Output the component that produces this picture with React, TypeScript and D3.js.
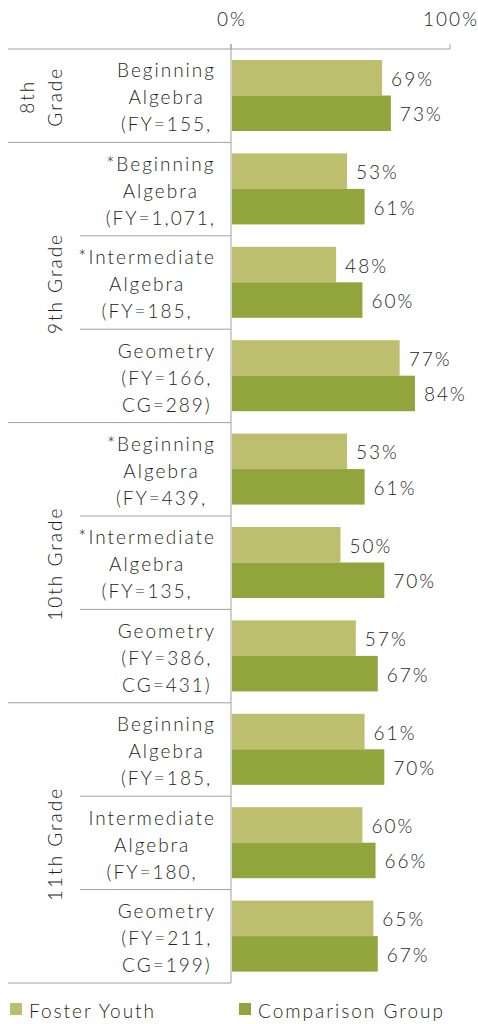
import { scaleBand, scaleLinear } from "d3";

const width = 478;
const height = 1024;

// chart values
const grades = [["8th", "Grade"], ["9th Grade"], ["10th Grade"], ["11th Grade"]];
const rowGrade = [0, 1, 1, 1, 2, 2, 2, 3, 3, 3];
const courses = [
  ["Beginning", "Algebra", "(FY=155,"],
  ["*Beginning", "Algebra", "(FY=1,071,"],
  ["*Intermediate", "Algebra", "(FY=185,"],
  ["Geometry", "(FY=166,", "CG=289)"],
  ["*Beginning", "Algebra", "(FY=439,"],
  ["*Intermediate", "Algebra", "(FY=135,"],
  ["Geometry", "(FY=386,", "CG=431)"],
  ["Beginning", "Algebra", "(FY=185,"],
  ["Intermediate", "Algebra", "(FY=180,"],
  ["Geometry", "(FY=211,", "CG=199)"],
];
const fosterYouth = [69, 53, 48, 77, 53, 50, 57, 61, 60, 65];
const comparisonGroup = [73, 61, 60, 84, 61, 70, 67, 70, 66, 67];
const seriesNames = ["Foster Youth", "Comparison Group"];
const tickValues = [0, 100];

const colors = ["#bdbf6f", "#92a43c"];
const textColor = "#231f20";
const lineColor = "#a0a0a0";
const font = "Lato, 'Open Sans', sans-serif";
const ls = 2;

const x = scaleLinear().domain([0, 100]).range([231, 450]);
const y = scaleBand<number>()
  .domain(courses.map((_, i) => i))
  .range([49, 983]);
const inner = scaleBand<number>().domain([0, 1]).range([11, 82]);

// measure label widths so each block sits against the axis
const ctx = document.createElement("canvas").getContext("2d") as any;
const measure = (s: string) => {
  if (!ctx) return s.length * 10;
  ctx.font = `300 19px ${font}`;
  ctx.letterSpacing = `${ls}px`;
  return ctx.measureText(s).width;
};

const App = () => {
  const series = [fosterYouth, comparisonGroup];

  const spans = grades.map((_, g) => {
    const idx = rowGrade.map((r, i) => (r === g ? i : -1)).filter((i) => i >= 0);
    const y0 = y(idx[0])!;
    const y1 = y(idx[idx.length - 1])! + y.bandwidth();
    return { g, y0, y1, idx };
  });

  return (
    <svg
      width={width}
      height={height}
      style={{ position: "absolute", left: 0, top: 0 }}
      fontFamily={font}
      fontWeight={300}
      letterSpacing={ls}
    >
      {/* top axis */}
      <line x1={8} x2={x(100)} y1={49} y2={49} stroke={lineColor} />
      {tickValues.map((t) => (
        <g key={t}>
          <line x1={x(t)} x2={x(t)} y1={44} y2={49} stroke={lineColor} />
          <text x={x(t) + 1} y={26} textAnchor="middle" fontSize={19} fill={textColor}>
            {t}%
          </text>
        </g>
      ))}
      <line x1={x(0)} x2={x(0)} y1={44} y2={983} stroke={lineColor} />

      {/* grade groups */}
      {spans.map((s) => (
        <g key={s.g}>
          <line x1={8} x2={x(0)} y1={s.y1} y2={s.y1} stroke={lineColor} />
          {s.idx.slice(0, -1).map((i) => (
            <line
              key={i}
              x1={80}
              x2={x(0)}
              y1={y(i)! + y.bandwidth()}
              y2={y(i)! + y.bandwidth()}
              stroke={lineColor}
            />
          ))}
          {grades[s.g].map((line, k, arr) => (
            <text
              key={k}
              transform={`translate(${55 - (arr.length - 1 - k) * 28},${(s.y0 + s.y1) / 2 + 1}) rotate(-90)`}
              textAnchor="middle"
              dy="0.35em"
              fontSize={19}
              fill={textColor}
            >
              {line}
            </text>
          ))}
        </g>
      ))}

      {/* course labels */}
      {courses.map((lines, i) => {
        const maxW = Math.max(...lines.map(measure));
        const cx = 215 - maxW / 2;
        return (
          <g key={i}>
            {lines.map((l, k) => (
              <text
                key={k}
                x={cx + ls / 2}
                y={y(i)! + y.bandwidth() / 2 + (k - 1) * 27 + 2}
                dy="0.35em"
                textAnchor="middle"
                fontSize={19}
                fill={textColor}
              >
                {l}
              </text>
            ))}
          </g>
        );
      })}

      {/* bars */}
      {series.map((vals, s) =>
        vals.map((v, i) => (
          <g key={`${s}-${i}`}>
            <rect
              x={x(0) + 1}
              y={y(i)! + inner(s)!}
              width={x(v) - x(0) - 1}
              height={inner.bandwidth()}
              fill={colors[s]}
            />
            <text
              x={x(v) + 9}
              y={y(i)! + inner(s)! + inner.bandwidth() / 2}
              dy="0.42em"
              fontSize={19}
              fill={textColor}
            >
              {v}%
            </text>
          </g>
        ))
      )}

      {/* legend */}
      {seriesNames.map((name, s) => (
        <g key={name} transform={`translate(${[10, 239][s]},1003)`}>
          <rect width={12} height={12} fill={colors[s]} />
          <text x={19} y={15} fontSize={19} fill={textColor}>
            {name}
          </text>
        </g>
      ))}
    </svg>
  );
};

export default App;
